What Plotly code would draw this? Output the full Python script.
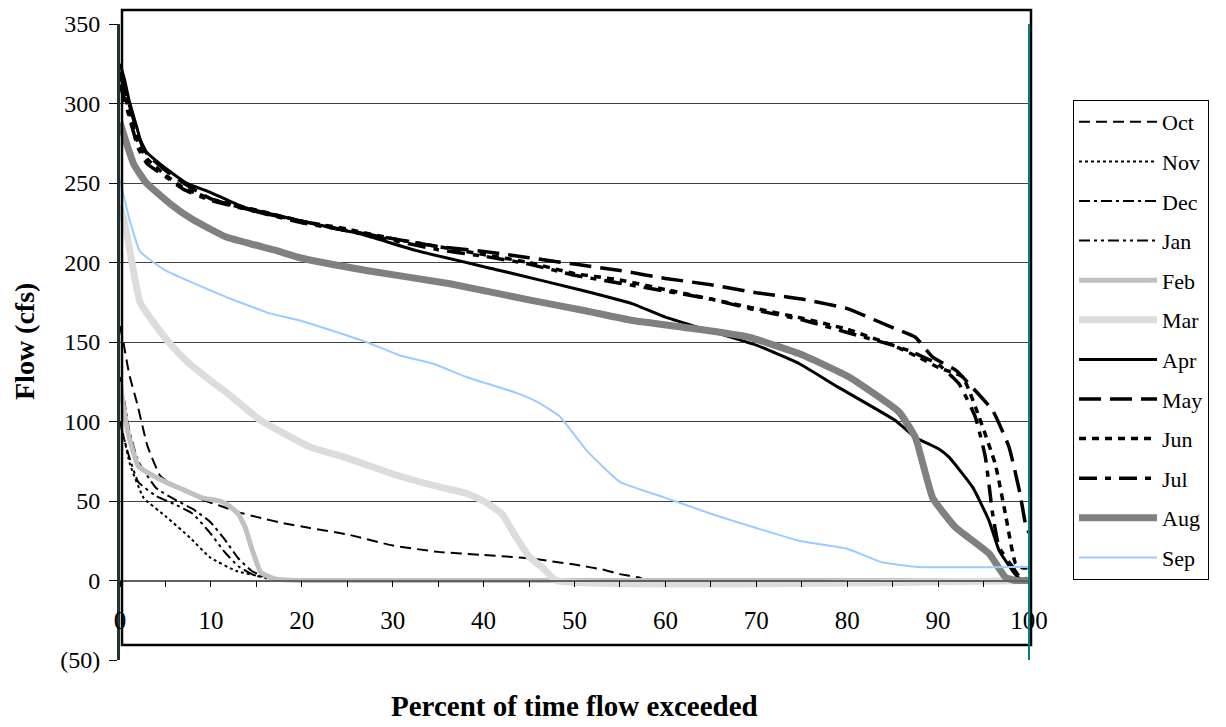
import plotly.graph_objects as go

# ---------------- data ----------------
oct_x = [0, 0.4, 1, 1.9, 3, 4.4, 6, 7.7, 9, 11, 13, 15, 18, 20.9, 25, 30, 35, 40, 45, 50, 53, 55, 57, 58, 100]
oct_y = [160, 149, 130, 111, 85, 66, 59, 55, 51, 47, 43, 40, 36, 33, 29, 22, 18, 16, 14, 10, 7, 4, 2, 0, 0]

nov_x = [0, 0.5, 1.1, 2.6, 5.1, 7.7, 9.9, 12.8, 16, 20, 100]
nov_y = [100, 88, 73, 52, 40, 27, 14.5, 6, 2, 0, 0]

dec_x = [0, 0.5, 1, 2, 4, 6, 8, 9.9, 11.5, 13, 14.5, 16, 18, 100]
dec_y = [128, 112, 95, 75, 58, 51, 45, 37, 26, 14, 6, 2, 0, 0]

jan_x = [0, 0.5, 1, 2, 4, 6, 8, 9.9, 11.5, 13, 14.5, 16, 18, 100]
jan_y = [100, 88, 78, 62, 53, 48, 42, 30, 18, 9, 4, 1.5, 0, 0]

feb_x = [0, 0.5, 1, 2, 3, 5, 7, 9, 11, 12, 13, 13.8, 14.5, 15.5, 17, 20, 100]
feb_y = [125, 105, 90, 72, 68, 62, 57, 52, 50, 47, 42, 33, 20, 5, 1, 0, 0]

mar_x = [0, 0.5, 1, 2.2, 3.6, 5.5, 7.5, 9.9, 12, 15.4, 20.9, 25, 30, 35, 38, 40, 42, 43.5, 45, 46.5, 48, 100]
mar_y = [236, 225, 210, 175, 163, 149, 137, 126, 117, 101, 84, 77, 67, 59, 55, 50, 42, 28, 15, 8, 0, 0]

apr_x = [0, 0.5, 1, 2, 2.5, 4.4, 7.3, 10, 13.5, 20, 26.4, 32.6, 41.8, 50.9, 56.4, 60, 63.7, 70, 74.7, 79,
         85.3, 87.5, 90, 91.2, 93.8, 95.6, 96.7, 98.2, 99, 100]
apr_y = [325, 315, 302, 282, 272, 262, 250, 244, 235, 226, 218, 207.5, 195, 182.4, 174, 165.6, 159, 148, 136.5, 121.6,
         100.6, 90, 83, 77.6, 58.7, 37.7, 19, 6, 1, 0]

may_x = [0, 1, 2, 3, 5, 7, 10, 15, 20, 25, 30, 35, 40, 45, 50, 55, 60, 65, 70, 75, 80, 85, 87.5, 89.4, 92, 94, 96,
         97.8, 99, 99.6, 100]
may_y = [318, 300, 280, 268, 258, 250, 240, 232, 226, 220, 215, 210, 207, 203, 199, 195, 190, 186, 181, 177, 171, 159,
         153, 140.5, 132, 120, 107, 84, 55, 36, 30]

jun_x = [0, 1, 2, 3, 5, 7, 10, 15, 20, 25, 30, 35, 40, 45, 50, 55, 60, 65, 70, 75, 80, 85, 88, 90, 92.7, 94.5, 96.3,
         97.4, 98.5, 99.3, 100]
jun_y = [320, 295, 275, 265, 255, 247, 240, 233, 226, 221, 215, 210, 205, 200, 193, 189, 183, 177, 171, 165, 158, 148,
         140, 134, 128, 103, 73, 42, 11, 8, 8]

jul_x = [0, 1, 2, 3, 5, 7, 10, 15, 20, 25, 30, 35, 40, 45, 50, 55, 60, 65, 70, 75, 80, 85, 86.8, 90, 92.3, 94.1,
         95.2, 96, 96.7, 98.2, 99, 100]
jul_y = [312, 292, 272, 262, 254, 246, 239, 232, 225, 220, 214, 208, 204, 199, 192, 187, 182, 177, 170, 164, 156, 148,
         144.6, 136, 123.7, 102.7, 77.6, 42, 21, 8.4, 2, 1]

aug_x = [0, 1.5, 2.9, 5.5, 8, 11.7, 17.2, 19.8, 27.1, 36.3, 45.4, 50.9, 56.4, 63.7, 69.2, 74.7, 80.2, 85.7, 87.5,
         89.4, 91.9, 95.6, 97.4, 98.5, 100]
aug_y = [288, 262, 250, 237, 227, 216, 207.5, 203, 195, 186.6, 176, 170, 163.5, 158, 153, 142.7, 128, 106, 90,
         52, 33.5, 17, 2, 0, 0]

sep_x = [0, 1, 2.2, 5, 11.8, 16.5, 19.8, 27.1, 30.8, 34.4, 38.1, 43.6, 46, 48.4, 51.3, 55, 60, 65, 70, 74.7, 80,
         83.8, 87.9, 100]
sep_y = [252, 228, 207, 195, 178, 168, 163.5, 150, 141.5, 136.5, 128, 118, 112, 103, 82, 62, 52, 42, 33, 25, 20,
         11.5, 8.5, 8.5]

month_names = ["Oct", "Nov", "Dec", "Jan", "Feb", "Mar", "Apr", "May", "Jun", "Jul", "Aug", "Sep"]

x_tick_vals = [0, 10, 20, 30, 40, 50, 60, 70, 80, 90, 100]
x_tick_text = ["0", "10", "20", "30", "40", "50", "60", "70", "80", "90", "100"]
y_tick_vals = [-50, 0, 50, 100, 150, 200, 250, 300, 350]
y_tick_text = ["(50)", "0", "50", "100", "150", "200", "250", "300", "350"]

# ---------------- styles ----------------
series = [
    (oct_x, oct_y, dict(color="black", width=2, dash="11px,6px")),
    (nov_x, nov_y, dict(color="black", width=2, dash="3px,3px")),
    (dec_x, dec_y, dict(color="black", width=2, dash="11px,4px,3px,4px")),
    (jan_x, jan_y, dict(color="black", width=2, dash="11px,4px,3px,4px,3px,4px")),
    (feb_x, feb_y, dict(color="#c0c0c0", width=5)),
    (mar_x, mar_y, dict(color="#dcdcdc", width=7)),
    (apr_x, apr_y, dict(color="black", width=3)),
    (may_x, may_y, dict(color="black", width=3.5, dash="22px,9px")),
    (jun_x, jun_y, dict(color="black", width=3.5, dash="7px,6px")),
    (jul_x, jul_y, dict(color="black", width=3.5, dash="18px,8px,6px,8px")),
    (aug_x, aug_y, dict(color="#808080", width=7)),
    (sep_x, sep_y, dict(color="#99ccff", width=2)),
]

fig = go.Figure()
for name, (xs, ys, ln) in zip(month_names, series):
    fig.add_trace(go.Scatter(x=xs, y=ys, mode="lines", name=name, line=ln,
                             legendgroup=name, line_shape="spline", line_smoothing=0.4))

FONT = "Liberation Serif, Times New Roman, serif"
W, H = 1226, 727
L, T = 120, 24
R = W - 1029
B = H - 660
pw, ph = W - L - R, H - T - B


def px_x(p):
    return (p - L) / pw


def px_y(p):
    return (H - B - p) / ph


fig.update_layout(
    width=W, height=H,
    margin=dict(l=L, r=R, t=T, b=B, autoexpand=False),
    paper_bgcolor="white",
    plot_bgcolor="white",
    font=dict(family=FONT, size=22, color="black"),
    showlegend=True,
    legend=dict(
        x=px_x(1073), y=px_y(100), xanchor="left", yanchor="top",
        bordercolor="black", borderwidth=1, bgcolor="white",
        font=dict(family=FONT, size=22, color="black"),
        itemwidth=78, tracegroupgap=8,
    ),
    xaxis=dict(
        range=[0, 100], anchor="free", position=0.125,
        automargin=False,
        showgrid=False, zeroline=False,
        showline=True, linecolor="#606060", linewidth=1.5,
        tickvals=x_tick_vals, ticktext=x_tick_text,
        ticks="outside", ticklen=6, tickcolor="black", tickwidth=1,
        minor=dict(dtick=5, tick0=0, ticks="outside", ticklen=6, tickcolor="black", tickwidth=1),
        tickfont=dict(family=FONT, size=25, color="black"),
        ticklabelstandoff=12,
        title=None,
    ),
    yaxis=dict(
        range=[-50, 350],
        automargin=False,
        showgrid=True, gridcolor="#404040", gridwidth=1,
        zeroline=False,
        showline=True, linecolor="#1e3434", linewidth=3,
        tickvals=y_tick_vals, ticktext=y_tick_text,
        ticks="outside", ticklen=8, tickcolor="black", tickwidth=1,
        tickfont=dict(family=FONT, size=24, color="black"),
        ticklabelstandoff=4,
        title=None,
    ),
    shapes=[
        # outer chart frame
        dict(type="rect", xref="paper", yref="paper",
             x0=px_x(122), x1=px_x(1031), y0=px_y(645), y1=px_y(10),
             line=dict(color="black", width=2.5), fillcolor="rgba(0,0,0,0)", layer="above"),
        # right plot-area edge
        dict(type="line", xref="paper", yref="paper",
             x0=1, x1=1, y0=0, y1=1, line=dict(color="#008080", width=2), layer="above"),
    ],
    annotations=[
        dict(text="<b>Percent of time flow exceeded</b>", xref="paper", yref="paper",
             x=0.5, y=px_y(706), xanchor="center", yanchor="middle", showarrow=False,
             font=dict(family=FONT, size=29, color="black")),
        dict(text="<b>Flow (cfs)</b>", xref="paper", yref="paper",
             x=px_x(24), y=px_y(342), xanchor="center", yanchor="middle", showarrow=False,
             textangle=-90, font=dict(family=FONT, size=28, color="black")),
    ],
)

fig.write_html("out.html", config={"displayModeBar": False},
               post_script="document.body.style.margin='0';")
